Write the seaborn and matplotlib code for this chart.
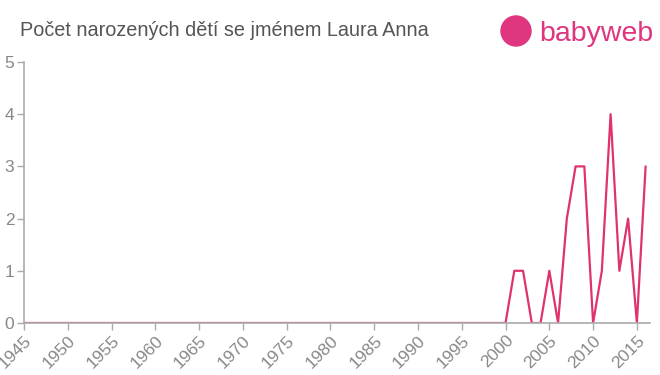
import matplotlib
matplotlib.use("Agg")
import matplotlib.pyplot as plt
import seaborn as sns
import pandas as pd
import numpy as np
from matplotlib.patches import Ellipse

years = list(range(1945, 2017))
nonzero = {2001: 1, 2002: 1, 2005: 1, 2007: 2, 2008: 3, 2009: 3,
           2011: 1, 2012: 4, 2013: 1, 2014: 2, 2016: 3}
counts = [nonzero.get(y, 0) for y in years]
xticks = list(range(1945, 2016, 5))
yticks = [0, 1, 2, 3, 4, 5]
title = "Počet narozených dětí se jménem Laura Anna"

sns.set_theme(style="white")
plt.rcParams['font.family'] = ['Liberation Sans', 'DejaVu Sans']

df = pd.DataFrame({"year": years, "count": counts})
fig = plt.figure(figsize=(6.6, 3.75), dpi=100)
ax = fig.add_axes([24/660, 1-323/375, (650-24)/660, (323-62)/375])
sns.lineplot(data=df, x="year", y="count", ax=ax, color="#e0336b", linewidth=1.6)
ax.set_xlim(1945, 2016.5)
ax.set_ylim(0, 5)
ax.set_xticks(xticks)
ax.set_xticklabels([str(t) for t in xticks], rotation=45, ha="right", rotation_mode="anchor")
ax.set_yticks(yticks)
ax.set_xlabel("")
ax.set_ylabel("")
for s in ["top", "right"]:
    ax.spines[s].set_visible(False)
for s in ["left", "bottom"]:
    ax.spines[s].set_color("#aaaaaa")
    ax.spines[s].set_linewidth(1.2)
ax.tick_params(axis="both", colors="#aaaaaa", length=5, width=1, labelcolor="#888888", labelsize=12.5, pad=2, bottom=True, left=True)

fig.text(20/660, 1-30/375, title, fontsize=14.3, color="#555555", va="center", ha="left")
# logo
circ = Ellipse((516/660, 1-31/375), 30/660, 30/375, transform=fig.transFigure, color="#e0357f", zorder=5)
fig.add_artist(circ)
fig.text(539/660, 1-34/375, "babyweb", fontsize=20.5, color="#e0357f", va="center", ha="left")

fig.savefig("out.png", dpi=100)
